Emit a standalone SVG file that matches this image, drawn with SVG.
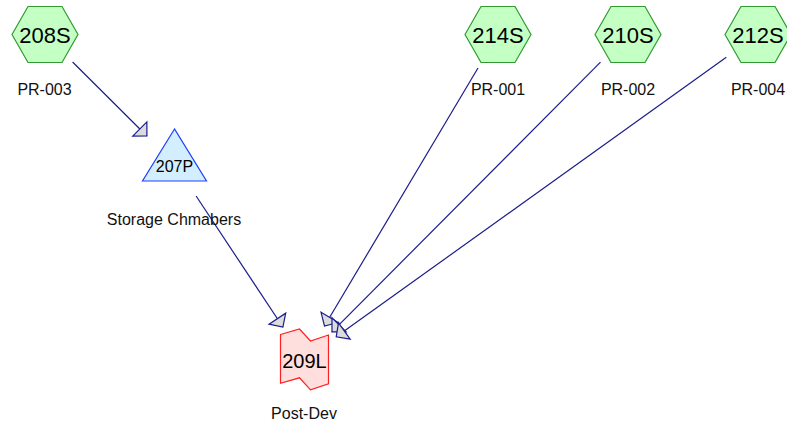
<svg xmlns="http://www.w3.org/2000/svg" width="787" height="426" viewBox="0 0 787 426">
<style>
.hex{fill:#c4ffc4;stroke:#2f9a2f;stroke-width:1.2}
.tri{fill:#d2eeff;stroke:#2040ff;stroke-width:1.2}
.doc{fill:#ffdede;stroke:#ff2020;stroke-width:1.2}
.big{font-family:"Liberation Sans",Arial,sans-serif;font-size:22px;fill:#000;text-anchor:middle}
.mid{font-family:"Liberation Sans",Arial,sans-serif;font-size:16px;fill:#000;text-anchor:middle}
.lbl{font-family:"Liberation Sans",Arial,sans-serif;font-size:16px;fill:#111;text-anchor:middle}
.edge{stroke:#1c1c8c;stroke-width:1.2;fill:none;marker-end:url(#arr)}
</style>
<defs>
<marker id="arr" markerUnits="userSpaceOnUse" viewBox="0 0 10 20" refX="10" refY="10" markerWidth="10" markerHeight="20" orient="auto" overflow="visible">
<path d="M0,0 L10,10 L0,20 z" fill="#dcdcdc" stroke="#1c1c8c" stroke-width="1.2" stroke-linejoin="miter"/>
</marker>
</defs>
<rect width="787" height="426" fill="#fff"/>
<g id="connectors">
<line class="edge" x1="72.6" y1="62" x2="146.9" y2="136"/>
<line class="edge" x1="196.1" y1="196" x2="282.9" y2="327"/>
<line class="edge" x1="478" y1="68" x2="324.5" y2="326"/>
<line class="edge" x1="600.5" y1="62.1" x2="332" y2="331.9"/>
<line class="edge" x1="726.3" y1="57.2" x2="336.2" y2="336.8"/>
</g>
<g id="n208S">
<polygon class="hex" points="12,34.5 28,6.5 62,6.5 78,34.5 62,62.5 28,62.5"/>
<text class="big" x="45" y="42.5">208S</text>
<text class="lbl" x="44.5" y="95">PR-003</text>
</g>
<g id="n214S">
<polygon class="hex" points="465,34.5 481,6.5 515,6.5 531,34.5 515,62.5 481,62.5"/>
<text class="big" x="498" y="42.5">214S</text>
<text class="lbl" x="498" y="95">PR-001</text>
</g>
<g id="n210S">
<polygon class="hex" points="595,34.5 611,6.5 645,6.5 661,34.5 645,62.5 611,62.5"/>
<text class="big" x="628" y="42.5">210S</text>
<text class="lbl" x="628" y="95">PR-002</text>
</g>
<g id="n212S">
<polygon class="hex" points="725,34.5 741,6.5 775,6.5 791,34.5 775,62.5 741,62.5"/>
<text class="big" x="758" y="42.5">212S</text>
<text class="lbl" x="758" y="95">PR-004</text>
</g>
<g id="n207P">
<polygon class="tri" points="174.5,129 142.5,181 206.5,181"/>
<text class="mid" x="174.5" y="171.5">207P</text>
<text class="lbl" x="174" y="225">Storage Chmabers</text>
</g>
<g id="n209L">
<polygon class="doc" points="280.5,334.5 299.5,329 310.5,341 328.5,335 328.5,383.8 310.5,389.8 299.5,377.8 280.5,383.3"/>
<text class="big" x="304.5" y="367.5" style="font-size:20px">209L</text>
<text class="lbl" x="304" y="419">Post-Dev</text>
</g>
</svg>
